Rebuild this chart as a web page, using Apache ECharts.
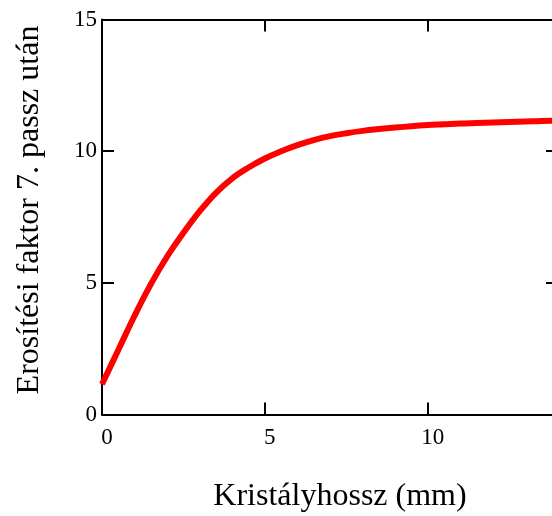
<!DOCTYPE html>
<html>
<head>
<meta charset="utf-8">
<script src="https://cdn.jsdelivr.net/npm/echarts@6/dist/echarts.min.js"></script>
<style>html,body{margin:0;padding:0;background:#fff}#c{width:552px;height:516px}</style>
</head>
<body>
<div id="c"></div>
<script>
var xValues = [0, 0.5, 1.0, 1.5, 2.0, 2.5, 3.0, 3.5, 4.0, 4.5, 5.0, 5.5, 6.0, 6.5, 7.0, 7.5, 8.0, 8.5, 9.0, 9.5, 10.0, 10.5, 11.0, 11.5, 12.0, 12.5, 13.0, 13.5, 14.0];
var gainValues = [1.15, 2.45, 3.75, 4.95, 6.0, 6.9, 7.72, 8.42, 8.97, 9.38, 9.72, 10.0, 10.23, 10.42, 10.57, 10.68, 10.77, 10.84, 10.9, 10.95, 10.99, 11.02, 11.05, 11.07, 11.09, 11.11, 11.13, 11.15, 11.16];
var xTickLabels = ['0', '5', '10'];
var yTickLabels = ['0', '5', '10', '15'];
var xTitle = 'Kristályhossz (mm)';
var yTitle = 'Erosítési faktor 7. passz után';

var pts = xValues.map(function (x, i) { return [x, gainValues[i]]; });
var font = 'Liberation Serif';
var lineStyle = { color: '#000', width: 2 };
var tickStyle = { show: true, inside: true, length: 12, lineStyle: { color: '#000', width: 2 } };

function xFmt(v) { var s = String(v); return xTickLabels.indexOf(s) >= 0 ? s : ''; }
function yFmt(v) { var s = String(v); return yTickLabels.indexOf(s) >= 0 ? s : ''; }

var chart = echarts.init(document.getElementById('c'), null, { renderer: 'canvas' });
chart.setOption({
  animation: false,
  grid: { left: 102, top: 19.5, right: -6, bottom: 101.5, containLabel: false, outerBoundsMode: 'none' },
  xAxis: [
    { type: 'value', position: 'bottom', min: 0, max: 14, interval: 5,
      axisLine: { show: true, onZero: false, lineStyle: lineStyle },
      axisTick: tickStyle, splitLine: { show: false },
      axisLabel: { formatter: xFmt, color: '#000', fontFamily: font, fontSize: 23, margin: 12, padding: [0, 0, 0, 10], showMaxLabel: false } },
    { type: 'value', position: 'top', min: 0, max: 14, interval: 5,
      axisLine: { show: true, onZero: false, lineStyle: lineStyle },
      axisTick: tickStyle, splitLine: { show: false }, axisLabel: { show: false } }
  ],
  yAxis: [
    { type: 'value', position: 'left', min: 0, max: 15, interval: 5,
      axisLine: { show: true, onZero: false, lineStyle: lineStyle },
      axisTick: tickStyle, splitLine: { show: false },
      axisLabel: { formatter: yFmt, color: '#000', fontFamily: font, fontSize: 23, margin: 5 } },
    { type: 'value', position: 'right', min: 0, max: 15, interval: 5,
      axisLine: { show: true, onZero: false, lineStyle: lineStyle },
      axisTick: tickStyle, splitLine: { show: false }, axisLabel: { show: false } }
  ],
  graphic: [
    { type: 'text', x: 340, y: 497, style: { text: xTitle, fill: '#000', font: '32px "Liberation Serif"', align: 'center', verticalAlign: 'middle' } },
    { type: 'text', x: 30, y: 210, rotation: Math.PI / 2, style: { text: yTitle, fill: '#000', font: '32px "Liberation Serif"', align: 'center', verticalAlign: 'middle' } }
  ],
  series: [{
    type: 'line', data: pts, showSymbol: false, smooth: 0.4,
    lineStyle: { color: '#ff0000', width: 6 }, clip: true
  }]
});
</script>
</body>
</html>
